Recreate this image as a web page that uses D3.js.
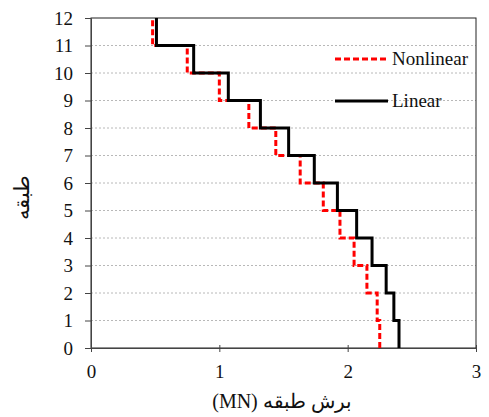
<!DOCTYPE html>
<html><head><meta charset="utf-8">
<script src="https://cdn.jsdelivr.net/npm/d3@7"></script>
<style>body{margin:0;background:#fff}</style>
</head><body>
<svg id="c" width="489" height="417"></svg>
<script>
const floors = [0,1,2,3,4,5,6,7,8,9,10,11];
const linear = [2.40,2.36,2.30,2.19,2.07,1.92,1.74,1.54,1.32,1.07,0.80,0.51];
const nonlinear = [2.25,2.23,2.15,2.05,1.94,1.81,1.63,1.44,1.23,1.00,0.75,0.48];
const xTicks = [0,1,2,3];
const yTicks = [0,1,2,3,4,5,6,7,8,9,10,11,12];
const seriesNames = ["Nonlinear","Linear"];

const FONT = "Liberation Serif";
const svg = d3.select("#c");
const L=91,R=476,T=18,B=348;
const x = d3.scaleLinear().domain([0,3]).range([L,R]);
const y = d3.scaleLinear().domain([0,12]).range([B,T]);

svg.append("g").selectAll("line").data(yTicks.filter(d=>d>0&&d<12)).join("line")
  .attr("x1",L).attr("x2",R).attr("y1",d=>y(d)).attr("y2",d=>y(d))
  .attr("stroke","#b8b8b8").attr("stroke-width",1).attr("stroke-dasharray","2,2");

svg.append("rect").attr("x",L).attr("y",T).attr("width",R-L).attr("height",B-T)
  .attr("fill","none").attr("stroke","#222").attr("stroke-width",1);

const xa = svg.append("g").attr("transform",`translate(0,${B})`)
  .call(d3.axisBottom(x).tickValues(xTicks).tickSize(6).tickSizeOuter(0).tickFormat(d3.format("d")));
const ya = svg.append("g").attr("transform",`translate(${L},0)`)
  .call(d3.axisLeft(y).tickValues(yTicks).tickSize(6).tickSizeOuter(0).tickFormat(d3.format("d")));
[xa,ya].forEach(a=>{
  a.attr("font-family",FONT).attr("font-size",19);
  a.select(".domain").attr("stroke","#444");
  a.selectAll(".tick line").attr("stroke","#444");
  a.selectAll(".tick text").attr("font-family",FONT).attr("font-size",19).attr("fill","#111");
});
xa.selectAll(".tick line").attr("y1",-3).attr("y2",4);
xa.selectAll(".tick text").attr("y",12).attr("dy","0.95em");
ya.selectAll(".tick text").attr("x",-18);

function stepPts(vals){
  const pts=[];
  vals.forEach((v,i)=>{pts.push([v,floors[i]]);pts.push([v,floors[i]+1]);});
  return pts;
}
const line = d3.line().x(d=>x(d[0])).y(d=>y(d[1]));

svg.append("path").attr("d",line(stepPts(nonlinear))).attr("fill","none")
  .attr("stroke","#ff0000").attr("stroke-width",3).attr("stroke-dasharray","6,3");
svg.append("path").attr("d",line(stepPts(linear))).attr("fill","none")
  .attr("stroke","#000").attr("stroke-width",3);

const lg = [{name:seriesNames[0],y:59,color:"#ff0000",dash:"6,3"},{name:seriesNames[1],y:101,color:"#000",dash:null}];
lg.forEach(d=>{
  svg.append("line").attr("x1",335).attr("x2",388).attr("y1",d.y).attr("y2",d.y)
    .attr("stroke",d.color).attr("stroke-width",3).attr("stroke-dasharray",d.dash);
  svg.append("text").attr("x",392).attr("y",d.y+6).text(d.name)
    .attr("font-family",FONT).attr("font-size",19).attr("fill","#111");
});

svg.append("text").attr("x",282).attr("y",408).attr("text-anchor","middle")
  .attr("direction","rtl").style("unicode-bidi","embed")
  .attr("font-family",FONT).attr("font-size",20).attr("fill","#111").text("برش طبقه (MN)");
svg.append("text").attr("transform",`translate(29,197) rotate(-90)`).attr("text-anchor","middle")
  .attr("font-family",FONT).attr("font-size",21).attr("fill","#111").text("طبقه");
</script>
</body></html>
